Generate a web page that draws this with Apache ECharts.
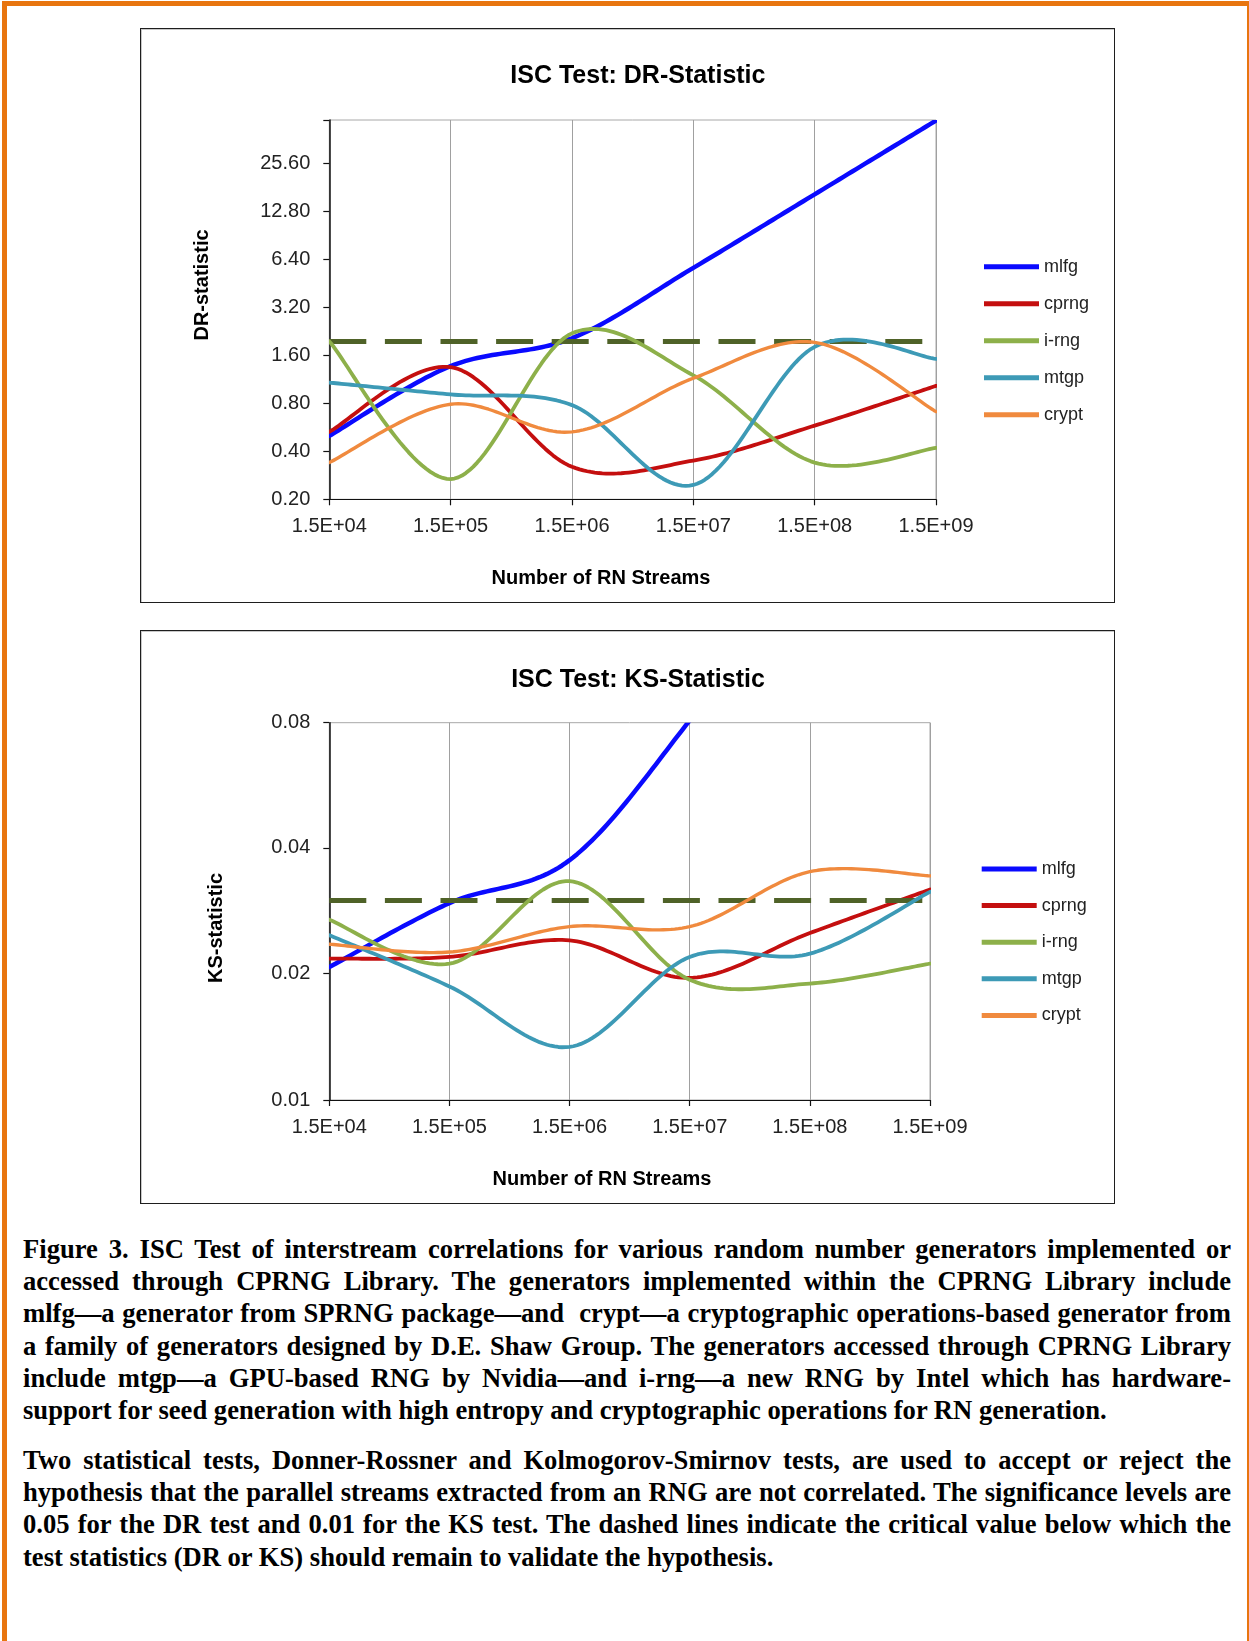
<!DOCTYPE html>
<html>
<head>
<meta charset="utf-8">
<script src="https://cdn.jsdelivr.net/npm/echarts@6/dist/echarts.min.js"></script>
<style>
html,body{margin:0;padding:0;background:#fff;}
#page{position:relative;width:1249px;height:1641px;overflow:hidden;background:#fff;}
#frame{position:absolute;left:2px;top:1px;width:1240px;height:1700px;border-left:5px solid #e8750f;border-top:5px solid #e8750f;border-right:2px solid #e8750f;}
.chart{position:absolute;}
.box{position:absolute;border:1px solid #1e1e1e;box-sizing:border-box;pointer-events:none;box-shadow:inset 1px 1px 0 #c8c8c8;}
.cap{position:absolute;left:23px;width:1208px;font-family:"Liberation Serif","Times New Roman",serif;font-weight:bold;font-size:26.6px;line-height:32.2px;color:#000;}
.cap div{white-space:nowrap;text-align:justify;text-align-last:justify;}
.cap div.last{text-align:left;text-align-last:left;}
</style>
</head>
<body>
<div id="page">
  <div id="frame"></div>
  <div id="c1" class="chart" style="left:140px;top:28px;width:975px;height:575px;"></div>
  <div class="box" style="left:140px;top:28px;width:975px;height:575px;"></div>
  <div id="c2" class="chart" style="left:140px;top:630px;width:975px;height:574px;"></div>
  <div class="box" style="left:140px;top:630px;width:975px;height:574px;"></div>
  <div class="cap" style="top:1233px;">
    <div>Figure 3. ISC Test of interstream correlations for various random number generators implemented or</div>
    <div>accessed through CPRNG Library. The generators implemented within the CPRNG Library include</div>
    <div>mlfg—a generator from SPRNG package—and&nbsp; crypt—a cryptographic operations-based generator from</div>
    <div>a family of generators designed by D.E. Shaw Group. The generators accessed through CPRNG Library</div>
    <div>include mtgp—a GPU-based RNG by Nvidia—and i-rng—a new RNG by Intel which has hardware-</div>
    <div class="last">support for seed generation with high entropy and cryptographic operations for RN generation.</div>
  </div>
  <div class="cap" style="top:1444px;">
    <div>Two statistical tests, Donner-Rossner and Kolmogorov-Smirnov tests, are used to accept or reject the</div>
    <div>hypothesis that the parallel streams extracted from an RNG are not correlated. The significance levels are</div>
    <div>0.05 for the DR test and 0.01 for the KS test. The dashed lines indicate the critical value below which the</div>
    <div class="last">test statistics (DR or KS) should remain to validate the hypothesis.</div>
  </div>
</div>
<script>
// ---------- data ----------
const categories = ['1.5E+04', '1.5E+05', '1.5E+06', '1.5E+07', '1.5E+08', '1.5E+09'];
const seriesNames = ['mlfg', 'cprng', 'i-rng', 'mtgp', 'crypt'];

// DR-statistic (log2 axis)
const drMlfg  = [0.50, 1.37, 2.05, 5.67, 16.4, 47.6];
const drCprng = [0.53, 1.35, 0.32, 0.35, 0.58, 1.03];
const drIrng  = [1.96, 0.268, 2.20, 1.20, 0.34, 0.42];
const drMtgp  = [1.08, 0.91, 0.78, 0.246, 1.81, 1.52];
const drCrypt = [0.34, 0.79, 0.53, 1.15, 1.93, 0.71];
const drCritical = 1.96;
const drAxisMin = 0.2, drAxisMax = 48;
const drTickLabels = ['0.20', '0.40', '0.80', '1.60', '3.20', '6.40', '12.80', '25.60'];

// KS-statistic (log2 axis)
const ksMlfg  = [0.0208, 0.0296, 0.0375, 0.081, 0.20, 0.50];
const ksCprng = [0.0218, 0.0220, 0.0241, 0.0196, 0.0251, 0.0319];
const ksIrng  = [0.0270, 0.0212, 0.0334, 0.0194, 0.0190, 0.0212];
const ksMtgp  = [0.0248, 0.0187, 0.0134, 0.0220, 0.0224, 0.0315];
const ksCrypt = [0.0236, 0.0226, 0.0260, 0.0260, 0.0352, 0.0344];
const ksCritical = 0.0272;
const ksAxisMin = 0.01, ksAxisMax = 0.08;
const ksTickLabels = ['0.01', '0.02', '0.04', '0.08'];

// ---------- styles ----------
const colors = ['#0a0aff', '#c40f0f', '#8db04a', '#3d9ab6', '#f08a3e'];
const widths = [4.5, 3.8, 3.8, 3.8, 3.4];
const FONT = '"Liberation Sans", Arial, sans-serif';

// Excel-like smoothed line (Catmull-Rom through the points, in pixel space via the axes)
function smoothRenderer(values, color, width) {
  return function (params, api) {
    if (params.dataIndex !== 0) return null;
    const P = values.map((v, i) => api.coord([i, v]));
    const n = P.length;
    const pts = [];
    const steps = 32;
    for (let i = 0; i < n - 1; i++) {
      const p0 = P[Math.max(i - 1, 0)], p1 = P[i], p2 = P[i + 1], p3 = P[Math.min(i + 2, n - 1)];
      const c1 = [p1[0] + (p2[0] - p0[0]) / 6, p1[1] + (p2[1] - p0[1]) / 6];
      const c2 = [p2[0] - (p3[0] - p1[0]) / 6, p2[1] - (p3[1] - p1[1]) / 6];
      for (let s = (i === 0 ? 0 : 1); s <= steps; s++) {
        const t = s / steps, u = 1 - t;
        const b0 = u * u * u, b1 = 3 * u * u * t, b2 = 3 * u * t * t, b3 = t * t * t;
        pts.push([
          b0 * p1[0] + b1 * c1[0] + b2 * c2[0] + b3 * p2[0],
          b0 * p1[1] + b1 * c1[1] + b2 * c2[1] + b3 * p2[1]
        ]);
      }
    }
    return {
      type: 'polyline',
      shape: { points: pts },
      style: { stroke: color, lineWidth: width, fill: 'none', lineJoin: 'round', lineCap: 'round' },
      silent: true
    };
  };
}

function buildOption(cfg) {
  const series = cfg.values.map((vals, i) => ({
    name: seriesNames[i],
    type: 'custom',
    coordinateSystem: 'cartesian2d',
    data: vals.map((v, j) => [j, v]),
    encode: { x: 0, y: 1 },
    clip: true,
    z: 3 + i,
    itemStyle: { color: colors[i] },
    renderItem: smoothRenderer(vals, colors[i], widths[i]),
    animation: false
  }));
  series.unshift({
    name: 'critical',
    type: 'line',
    data: [],
    z: 2,
    animation: false,
    markLine: {
      silent: true,
      symbol: ['none', 'none'],
      label: { show: false },
      animation: false,
      lineStyle: { color: '#4f6228', width: 5, type: [37, 18.6] },
      data: [{ yAxis: cfg.critical }]
    }
  });
  const labels = cfg.tickLabels;
  return {
    animation: false,
    backgroundColor: '#fff',
    grid: {
      left: cfg.grid[0], top: cfg.grid[1], width: cfg.grid[2], height: cfg.grid[3],
      show: true, borderColor: '#a8a8a8', borderWidth: 1, backgroundColor: 'transparent'
    },
    legend: {
      orient: 'vertical',
      left: cfg.legend[0], top: cfg.legend[1],
      padding: 0,
      itemGap: cfg.legend[2],
      itemWidth: 55, itemHeight: 5,
      icon: 'rect',
      data: seriesNames.map((nm, i) => ({ name: nm, itemStyle: { color: colors[i] } })),
      selectedMode: false,
      textStyle: { fontFamily: FONT, fontSize: 18, lineHeight: 18, color: '#222' }
    },
    xAxis: {
      type: 'category',
      data: categories,
      boundaryGap: false,
      axisLine: { show: true, lineStyle: { color: '#111', width: 1.2 } },
      axisTick: { show: true, length: 6, inside: false, lineStyle: { color: '#111', width: 1.2 } },
      axisLabel: { fontFamily: FONT, fontSize: 20, color: '#222', margin: 17 },
      splitLine: { show: true, lineStyle: { color: '#a0a0a0', width: 1 } }
    },
    yAxis: {
      type: 'log',
      logBase: 2,
      min: cfg.min,
      max: cfg.max,
      interval: 1,
      axisLine: { show: true, lineStyle: { color: '#111', width: 1.5 } },
      axisTick: { show: true, length: 6, lineStyle: { color: '#111', width: 1.2 } },
      splitLine: { show: false },
      minorTick: { show: false },
      axisLabel: {
        fontFamily: FONT, fontSize: 20, color: '#222', margin: 19,
        showMinLabel: true, showMaxLabel: true, hideOverlap: false,
        formatter: function (v, index) {
          return (index >= 0 && index < labels.length) ? labels[index] : '';
        }
      }
    },
    graphic: [
      { type: 'text', x: cfg.title[1], y: cfg.title[2],
        style: { text: cfg.title[0], font: 'bold 25px ' + FONT, fill: '#000', align: 'center', verticalAlign: 'middle', textAlign: 'center', textVerticalAlign: 'middle' } },
      { type: 'text', x: cfg.yName[1], y: cfg.yName[2], rotation: Math.PI / 2,
        style: { text: cfg.yName[0], font: 'bold 20px ' + FONT, fill: '#000', align: 'center', verticalAlign: 'middle', textAlign: 'center', textVerticalAlign: 'middle' } },
      { type: 'text', x: cfg.xName[1], y: cfg.xName[2],
        style: { text: cfg.xName[0], font: 'bold 20px ' + FONT, fill: '#000', align: 'center', verticalAlign: 'middle', textAlign: 'center', textVerticalAlign: 'middle' } }
    ],
    series: series
  };
}

const chart1 = echarts.init(document.getElementById('c1'), null, { renderer: 'canvas' });
chart1.setOption(buildOption({
  values: [drMlfg, drCprng, drIrng, drMtgp, drCrypt],
  critical: drCritical,
  min: drAxisMin, max: drAxisMax,
  tickLabels: drTickLabels,
  grid: [189.3, 92, 606.7, 379.3],
  legend: [844, 229.7, 19],
  title: ['ISC Test: DR-Statistic', 497.9, 48],
  yName: ['DR-statistic', 62, 257],
  xName: ['Number of RN Streams', 461, 550]
}));

const chart2 = echarts.init(document.getElementById('c2'), null, { renderer: 'canvas' });
chart2.setOption(buildOption({
  values: [ksMlfg, ksCprng, ksIrng, ksMtgp, ksCrypt],
  critical: ksCritical,
  min: ksAxisMin, max: ksAxisMax,
  tickLabels: ksTickLabels,
  grid: [189.3, 92.7, 600.7, 377.3],
  legend: [841.7, 230, 18.6],
  title: ['ISC Test: KS-Statistic', 498, 50],
  yName: ['KS-statistic', 76, 298],
  xName: ['Number of RN Streams', 462, 549]
}));
</script>
</body>
</html>
